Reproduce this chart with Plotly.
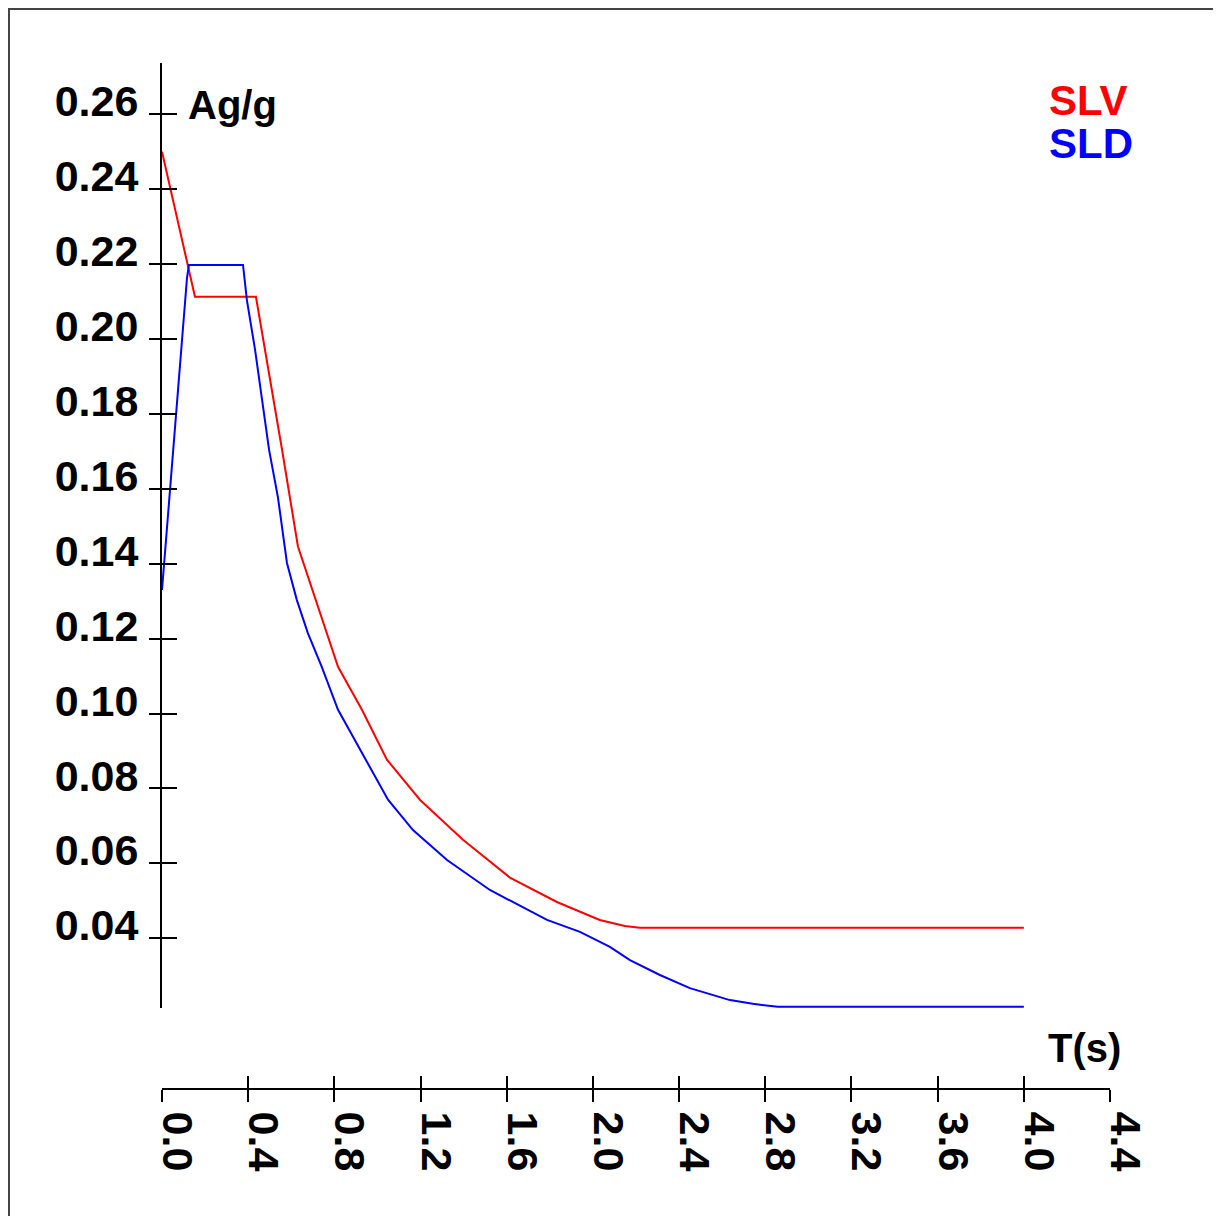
import plotly.graph_objects as go

# ---- data ----
slv_T = [0.0, 0.153, 0.436, 0.478, 0.557, 0.631, 0.715, 0.817, 0.928, 1.044,
         1.197, 1.397, 1.615, 1.833, 2.032, 2.148, 2.218, 4.0]
slv_A = [0.2500, 0.2113, 0.2113, 0.1972, 0.1705, 0.1446, 0.1303, 0.1125, 0.1010, 0.0877,
         0.0770, 0.0663, 0.0562, 0.0497, 0.0449, 0.0433, 0.0428, 0.0428]

sld_T = [0.0, 0.097, 0.116, 0.125, 0.376, 0.394, 0.432, 0.497, 0.538, 0.580, 0.626,
         0.677, 0.742, 0.817, 0.919, 1.049, 1.165, 1.323, 1.522, 1.787, 1.940,
         2.079, 2.172, 2.311, 2.450, 2.636, 2.742, 2.858, 4.0]
sld_A = [0.1330, 0.2024, 0.2163, 0.2198, 0.2198, 0.2104, 0.1971, 0.1704, 0.1578, 0.1402, 0.1303,
         0.1215, 0.1124, 0.1010, 0.0903, 0.0770, 0.0689, 0.0609, 0.0529, 0.0449, 0.0417,
         0.0377, 0.0342, 0.0302, 0.0267, 0.0235, 0.0225, 0.0217, 0.0217]

y_ticks = [0.04, 0.06, 0.08, 0.10, 0.12, 0.14, 0.16, 0.18, 0.20, 0.22, 0.24, 0.26]
y_tick_text = ["0.04", "0.06", "0.08", "0.10", "0.12", "0.14", "0.16", "0.18",
               "0.20", "0.22", "0.24", "0.26"]
x_ticks = [0.0, 0.4, 0.8, 1.2, 1.6, 2.0, 2.4, 2.8, 3.2, 3.6, 4.0, 4.4]
x_tick_text = ["0.0", "0.4", "0.8", "1.2", "1.6", "2.0", "2.4", "2.8", "3.2", "3.6", "4.0", "4.4"]

W, H = 1221, 1216
OFF = 8  # page body margin offset
FONT = "Liberation Sans, Arial, sans-serif"


def px(x):
    return (x - OFF) / W


def py(y):
    return (H - (y - OFF)) / H


fig = go.Figure()
fig.add_trace(go.Scatter(x=slv_T, y=slv_A, mode="lines", name="SLV",
                         line=dict(color="#ff0000", width=2), showlegend=False))
fig.add_trace(go.Scatter(x=sld_T, y=sld_A, mode="lines", name="SLD",
                         line=dict(color="#0000ff", width=2), showlegend=False))
# empty helper trace so the overlaid tick-only axes get drawn (gives "cross" ticks)
fig.add_trace(go.Scatter(x=[None], y=[None], xaxis="x2", yaxis="y2", mode="lines",
                         showlegend=False, hoverinfo="skip"))

xdom = [px(162), px(1110)]
ydom = [py(1008), py(63)]
xpos = py(1089)
xr = [0, 4.4]
yr = [0.02139, 0.2737]

tickfont = dict(family=FONT, size=43, color="black", weight="bold")

fig.update_layout(
    template="none",
    width=W, height=H,
    margin=dict(l=0, r=0, t=0, b=0, autoexpand=False),
    paper_bgcolor="white", plot_bgcolor="white",
    showlegend=False,
    xaxis=dict(domain=xdom, range=xr, anchor="free", position=xpos, automargin=False,
               showgrid=False, zeroline=False, showline=True, linecolor="black", linewidth=2,
               ticks="outside", ticklen=12, tickwidth=2, tickcolor="black",
               tickvals=x_ticks, ticktext=x_tick_text, tickangle=90,
               tickfont=tickfont, ticklabelshift=15, ticklabelstandoff=1),
    xaxis2=dict(domain=xdom, range=xr, anchor="free", position=xpos, overlaying="x",
                automargin=False,
                showgrid=False, zeroline=False, showline=False,
                ticks="inside", ticklen=13, tickwidth=2, tickcolor="black",
                tickvals=x_ticks, showticklabels=False),
    yaxis=dict(domain=ydom, range=yr, anchor="x", automargin=False,
               showgrid=False, zeroline=False, showline=True, linecolor="black", linewidth=2,
               ticks="outside", ticklen=11, tickwidth=2, tickcolor="black",
               tickvals=y_ticks, ticktext=y_tick_text,
               tickfont=tickfont, ticklabelshift=-13, ticklabelstandoff=2),
    yaxis2=dict(domain=ydom, range=yr, anchor="x", overlaying="y", side="left",
                automargin=False,
                showgrid=False, zeroline=False, showline=False,
                ticks="inside", ticklen=15, tickwidth=2, tickcolor="black",
                tickvals=y_ticks, showticklabels=False),
)

ann_font = dict(family=FONT, size=40, color="black", weight="bold")
fig.add_annotation(text="Ag/g", xref="paper", yref="paper", x=px(186), y=py(105),
                   xanchor="left", yanchor="middle", showarrow=False, font=ann_font)
fig.add_annotation(text="T(s)", xref="paper", yref="paper", x=px(1046), y=py(1048),
                   xanchor="left", yanchor="middle", showarrow=False, font=ann_font)
fig.add_annotation(text="SLV", xref="paper", yref="paper", x=px(1047), y=py(100),
                   xanchor="left", yanchor="middle", showarrow=False,
                   font=dict(family=FONT, size=42, color="#ff0000", weight="bold"))
fig.add_annotation(text="SLD", xref="paper", yref="paper", x=px(1047), y=py(144),
                   xanchor="left", yanchor="middle", showarrow=False,
                   font=dict(family=FONT, size=42, color="#0000ff", weight="bold"))

# outer frame
fig.add_shape(type="rect", xref="paper", yref="paper",
              x0=px(9), x1=px(1218), y0=-0.02, y1=py(9),
              line=dict(color="#444444", width=2), fillcolor="rgba(0,0,0,0)", layer="below")

fig.write_html("out.html")
